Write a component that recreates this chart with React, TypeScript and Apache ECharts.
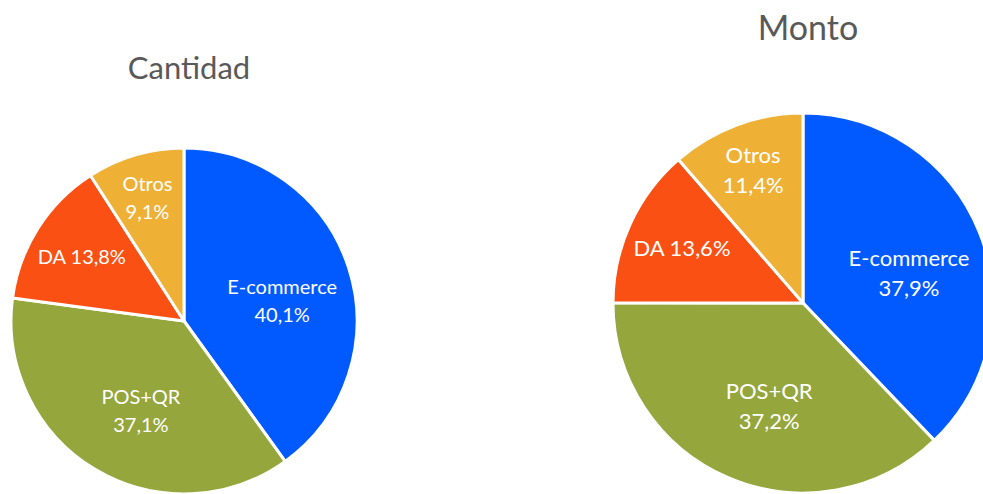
import React, { useEffect, useRef } from "react";
import * as echarts from "echarts";

const categories = ["E-commerce", "POS+QR", "DA", "Otros"];
const cantidadValues = [40.1, 37.1, 13.8, 9.1];
const montoValues = [37.9, 37.2, 13.6, 11.4];
const titles = ["Cantidad", "Monto"];
const colors = ["#005AFF", "#94A63C", "#FA5014", "#EEB135"];

// layout (not data)
const pies = [
  { center: [184, 321], radius: 173, values: cantidadValues, font: 20, lh: 28, titleY: 46, titleSize: 31 },
  { center: [803, 303], radius: 190, values: montoValues, font: 22, lh: 30, titleY: 4, titleSize: 34 },
];
const labelRatio = [0.58, 0.57, 0.7, 0.75];
const labelAngleShift = [-6, 5, 0, 0];

const fmt = (v: number) => v.toFixed(1).replace(".", ",");

export default function App() {
  const ref = useRef<HTMLDivElement>(null);
  useEffect(() => {
    if (!ref.current) return;
    const chart = echarts.init(ref.current, undefined, { renderer: "svg" });
    const font = "Lato, 'Open Sans', sans-serif";
    const midAngles = pies.map((p) => {
      const total = p.values.reduce((a, b) => a + b, 0);
      let acc = 0;
      return p.values.map((v, i) => {
        const start = 90 - (acc / total) * 360;
        acc += v;
        const end = 90 - (acc / total) * 360;
        return ((start + end) / 2 + labelAngleShift[i]) * (Math.PI / 180);
      });
    });
    chart.setOption({
      animation: false,
      backgroundColor: "#ffffff",
      title: pies.map((p, i) => ({
        text: titles[i],
        left: p.center[0],
        top: p.titleY,
        textAlign: "center",
        textStyle: { fontFamily: font, fontSize: p.titleSize, fontWeight: "normal", color: "#595959" },
      })),
      series: pies.map((p, si) => ({
        type: "pie",
        center: p.center,
        radius: [0, p.radius],
        startAngle: 90,
        clockwise: true,
        silent: true,
        itemStyle: { borderColor: "#ffffff", borderWidth: 3 },
        label: {
          show: true,
          position: "inside",
          color: "#ffffff",
          fontFamily: font,
          fontSize: p.font,
          lineHeight: p.lh,
          align: "center",
          formatter: (params: any) =>
            params.name === "DA" ? `${params.name} ${fmt(params.value)}%` : `${params.name}\n${fmt(params.value)}%`,
        },
        labelLine: { show: false },
        labelLayout: (params: any) => {
          const a = midAngles[si][params.dataIndex];
          const r = p.radius * labelRatio[params.dataIndex];
          return { x: p.center[0] + r * Math.cos(a), y: p.center[1] - r * Math.sin(a) };
        },
        data: categories.map((c, i) => ({ name: c, value: p.values[i], itemStyle: { color: colors[i] } })),
      })),
    });
    return () => chart.dispose();
  }, []);
  return <div ref={ref} style={{ position: "absolute", left: 0, top: 0, width: 983, height: 494 }} />;
}
